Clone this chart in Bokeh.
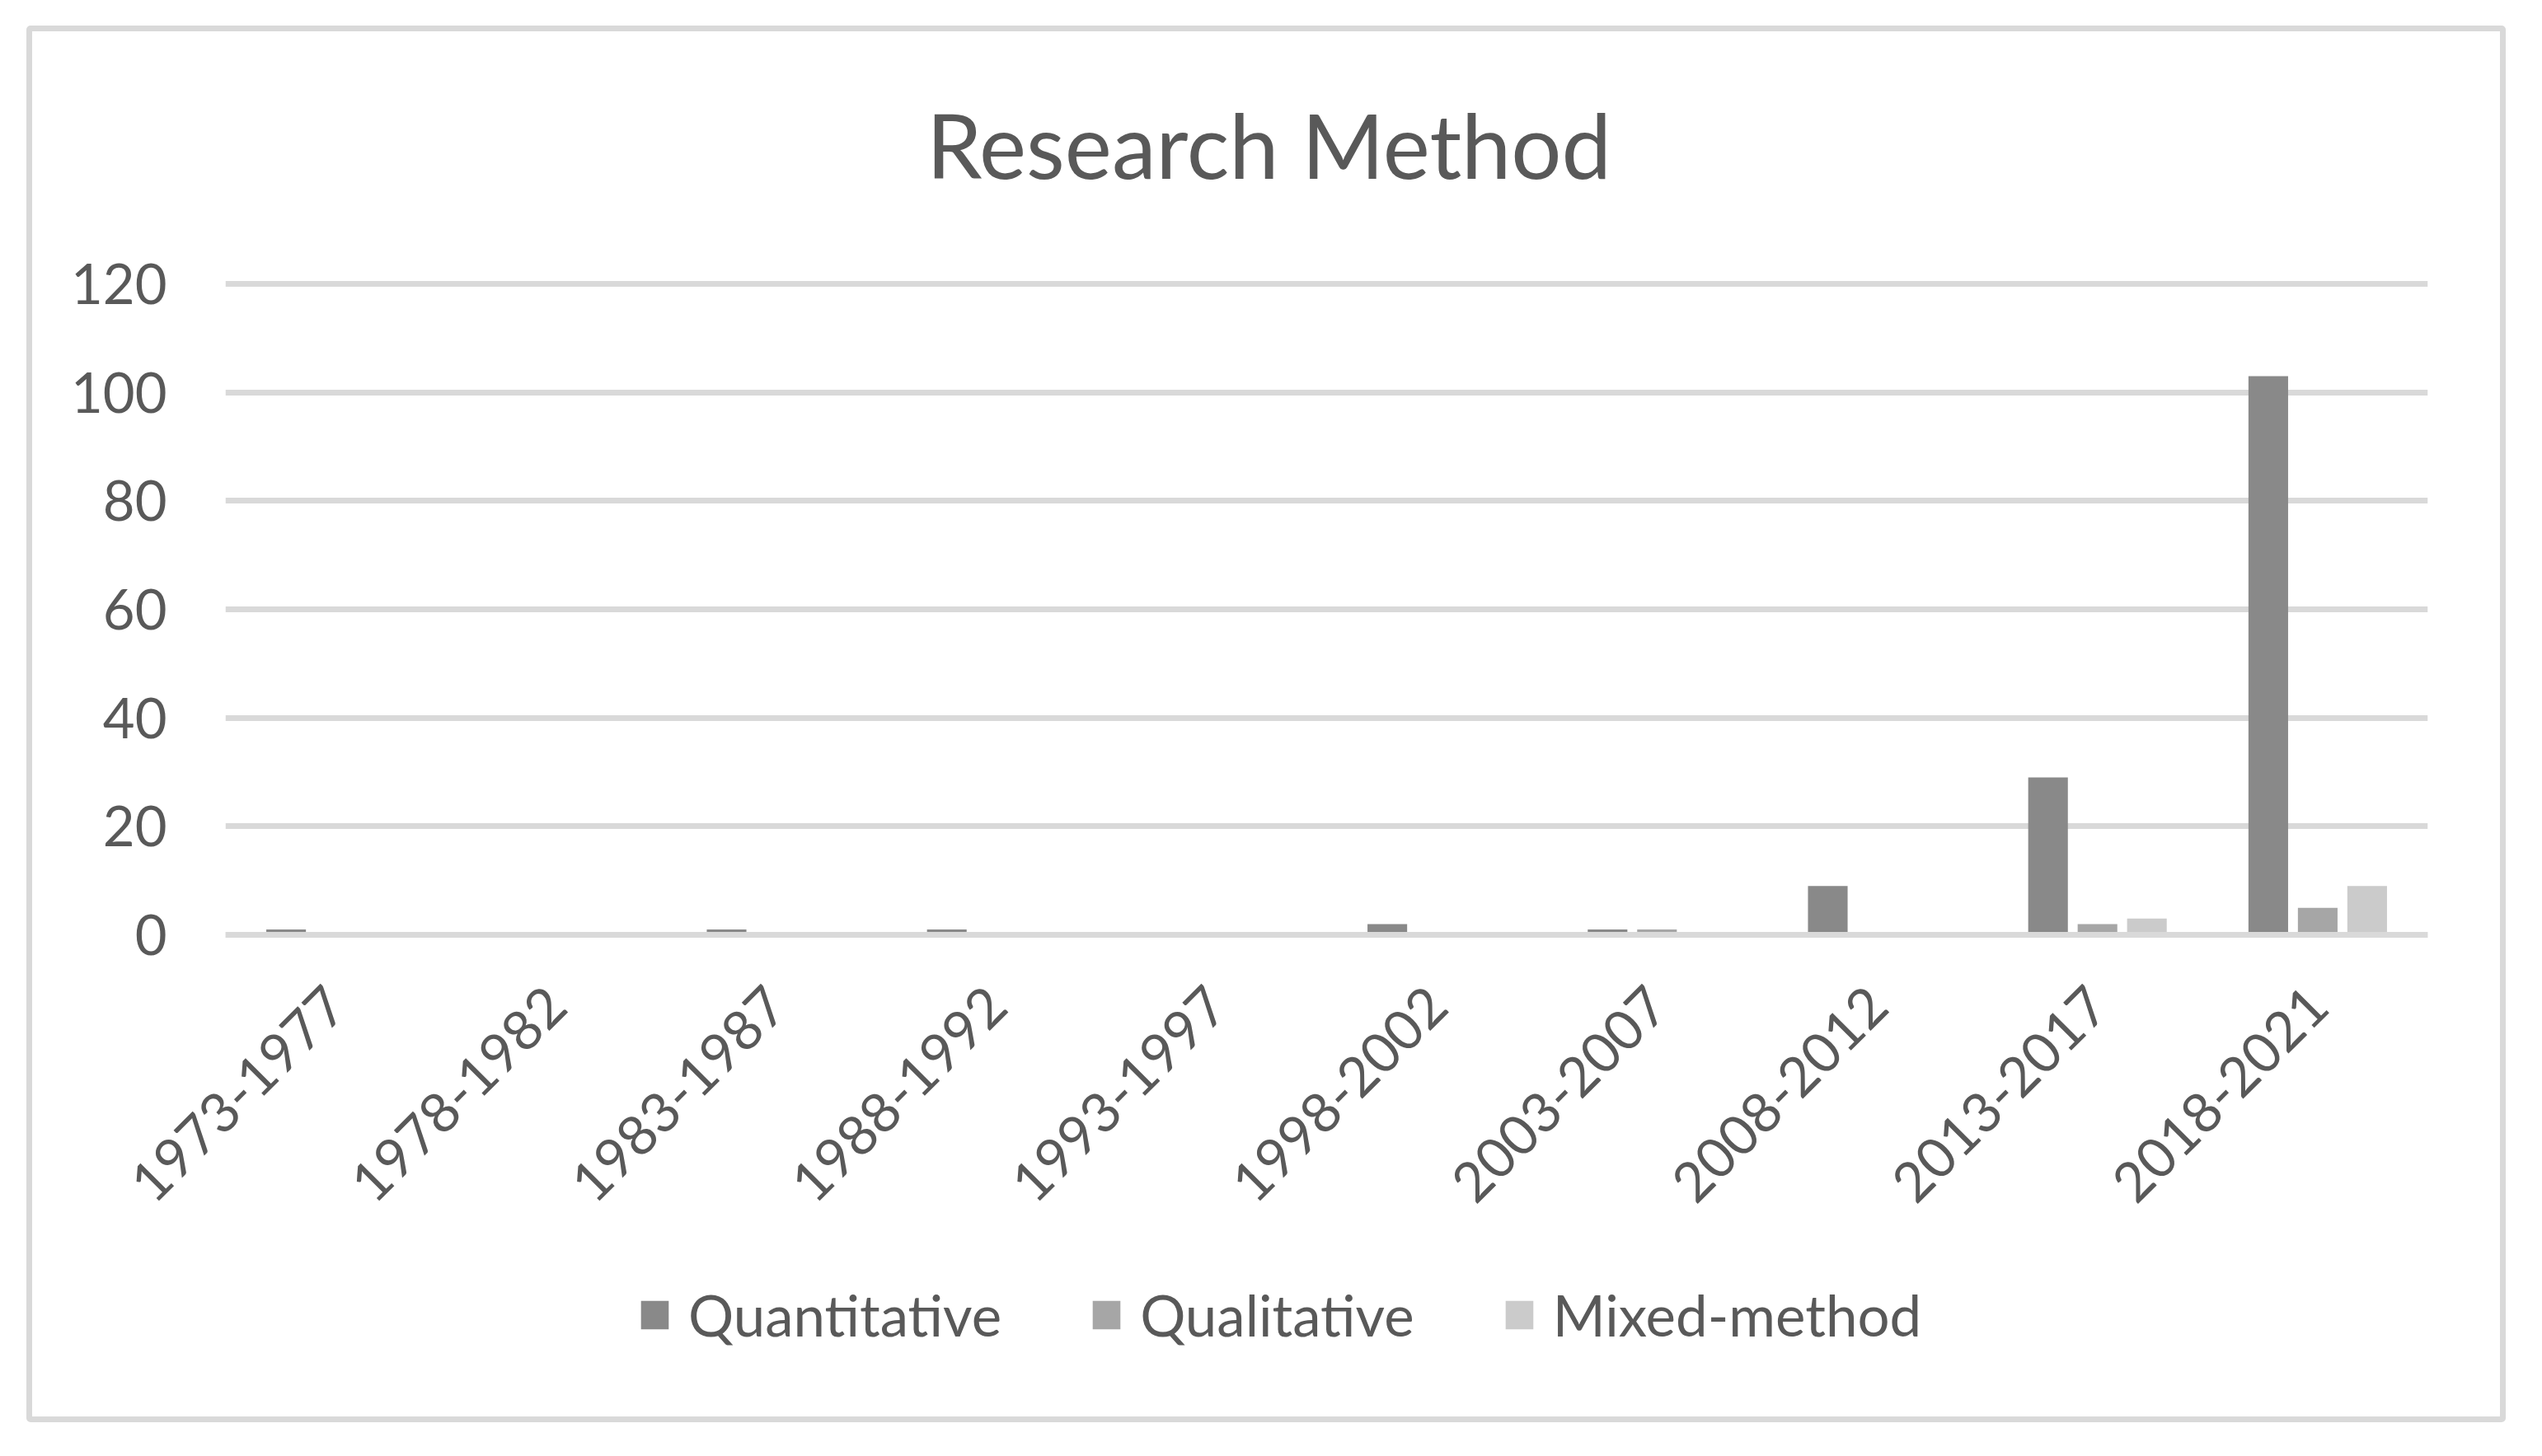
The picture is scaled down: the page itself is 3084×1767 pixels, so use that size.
import math
from bokeh.plotting import figure
from bokeh.layouts import column
from bokeh.models import ColumnDataSource, Range1d, FactorRange, Span, Legend, LegendItem, FixedTicker, Label
from bokeh.transform import dodge
from bokeh.embed import file_html
from bokeh.resources import INLINE

title_text = "Research Method"
periods = ["1973-1977", "1978-1982", "1983-1987", "1988-1992", "1993-1997",
           "1998-2002", "2003-2007", "2008-2012", "2013-2017", "2018-2021"]
quantitative = [1, 0, 1, 1, 0, 2, 1, 9, 29, 103]
qualitative = [0, 0, 0, 0, 0, 0, 1, 0, 2, 5]
mixed_method = [0, 0, 0, 0, 0, 0, 0, 0, 3, 9]
series_names = ["Quantitative", "Qualitative", "Mixed-method"]
series_colors = ["#898989", "#a6a6a6", "#cbcbcb"]
y_ticks = [0, 20, 40, 60, 80, 100, 120]

FONT = "Lato"
TEXT = "#595959"
GRID = "#d9d9d9"
W = 2994


def strip(height):
    f = figure(width=W, height=height, output_backend="svg", toolbar_location=None,
               x_range=Range1d(0, 1), y_range=Range1d(0, 1),
               x_axis_location=None, y_axis_location=None, min_border=0)
    f.outline_line_color = None
    f.grid.grid_line_color = None
    f.border_fill_color = "white"
    f.background_fill_color = "white"
    return f


# ---- title strip
pt = strip(250)
pt.add_layout(Label(x=1266, y=114, x_units="screen", y_units="screen", text=title_text,
                    text_font=FONT, text_font_size="108px", text_color=TEXT,
                    text_align="center", text_baseline="alphabetic"))

# ---- main chart
source = ColumnDataSource(data=dict(period=periods, quant=quantitative,
                                    qual=qualitative, mixed=mixed_method))

p = figure(x_range=FactorRange(*periods), y_range=Range1d(-0.6, 120.6),
           width=W, height=1230, output_backend="svg", toolbar_location=None,
           min_border_left=234, min_border_right=88, min_border_top=52, min_border_bottom=380)
p.outline_line_color = None
p.background_fill_color = "white"
p.border_fill_color = "white"

w = 0.18
step = 0.2245
offsets = [-step, 0.0, step]
fields = ["quant", "qual", "mixed"]
for fld, off, col in zip(fields, offsets, series_colors):
    p.vbar(x=dodge("period", off, range=p.x_range), top=fld, width=w, source=source,
           color=col, line_color=None)

p.add_layout(Span(location=0, dimension="width", line_color=GRID, line_width=7, level="overlay"))

p.xgrid.grid_line_color = None
p.ygrid.grid_line_color = GRID
p.ygrid.grid_line_width = 7
p.ygrid.ticker = FixedTicker(ticks=y_ticks)

p.yaxis.ticker = FixedTicker(ticks=y_ticks)
p.yaxis.axis_line_color = None
p.yaxis.major_tick_line_color = None
p.yaxis.minor_tick_line_color = None
p.yaxis.major_tick_in = 0
p.yaxis.major_tick_out = 0
p.yaxis.major_label_standoff = 71
p.yaxis.major_label_text_font = FONT
p.yaxis.major_label_text_font_size = "67px"
p.yaxis.major_label_text_color = TEXT

p.xaxis.axis_line_color = None
p.xaxis.major_tick_line_color = None
p.xaxis.minor_tick_line_color = None
p.xaxis.major_tick_in = 0
p.xaxis.major_tick_out = 0
p.xaxis.major_label_orientation = math.pi / 4
p.xaxis.major_label_standoff = 70
p.xaxis.major_label_text_font = FONT
p.xaxis.major_label_text_font_size = "67px"
p.xaxis.major_label_text_color = TEXT

# ---- legend strip
pl = strip(201)
hidden = ColumnDataSource(data=dict(x=[0.5], top=[0.0]))
items = []
for name, col in zip(series_names, series_colors):
    r = pl.vbar(x="x", top="top", width=0.01, source=hidden, color=col, line_color=None)
    items.append(LegendItem(label=name, renderers=[r]))

legend = Legend(items=items, orientation="horizontal", location=(500, 82))
legend.glyph_width = 42
legend.glyph_height = 43
legend.label_standoff = 20
legend.spacing = 106
legend.label_text_font = FONT
legend.label_text_font_size = "69px"
legend.label_text_color = TEXT
legend.border_line_color = None
legend.background_fill_alpha = 0
legend.padding = 0
legend.margin = 0
pl.add_layout(legend, "center")

layout = column(pt, p, pl, spacing=0)
layout.margin = (31, 0, 0, 32)
layout.styles = {"border": "7px solid #d9d9d9", "border-radius": "5px", "background": "white"}

open("out.html", "w").write(file_html(layout, INLINE))
